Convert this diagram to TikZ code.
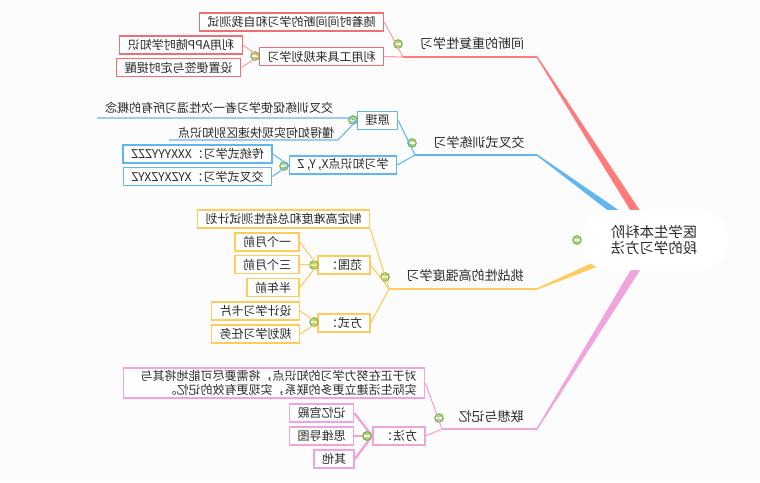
\documentclass[tikz,border=0pt]{standalone}
\usepackage{fontspec}
\setmainfont{Noto Sans CJK SC}
\usetikzlibrary{calc}
\definecolor{bgc}{RGB}{252,252,252}
\definecolor{txt}{RGB}{40,40,40}
\definecolor{redline}{RGB}{255,122,122}
\definecolor{redbox}{RGB}{240,112,112}
\definecolor{blueline}{RGB}{96,182,240}
\definecolor{yelline}{RGB}{255,204,92}
\definecolor{pinkline}{RGB}{240,164,222}
\definecolor{foldgreen}{RGB}{110,170,60}
\definecolor{foldfill}{RGB}{170,215,120}
\tikzstyle{flip} = [xscale=-1]
\tikzstyle{box} = [flip,draw,fill=white,line width=1.1pt,inner xsep=6pt,inner ysep=0pt,minimum height=13.5pt,text=txt,font=\fontsize{9}{11}\selectfont]
\tikzstyle{topic} = [flip,text=txt,inner sep=0,font=\fontsize{9.75}{12}\selectfont]
\tikzstyle{leaf} = [flip,text=txt,inner sep=0,font=\fontsize{9}{11}\selectfont]
\tikzstyle{thin} = [line width=0.8pt]
\tikzset{fold/.style={circle,draw=foldgreen,fill=foldfill,line width=0.6pt,minimum size=6.5pt,inner sep=0,
  path picture={\draw[white,line width=1.1pt] ([xshift=-2.4pt]path picture bounding box.center) -- ([xshift=2.4pt]path picture bounding box.center);}}}
\newcommand{\branch}[2]{\fill[#1] ($(#2)!0.5pt!90:(hub)$) -- ($(hub)!3.5pt!-90:(#2)$) -- ($(hub)!3.5pt!90:(#2)$) -- ($(#2)!0.5pt!-90:(hub)$) -- cycle;}

\begin{document}
\begin{tikzpicture}[x=0.75pt,y=-0.75pt]
    \useasboundingbox (0,0) rectangle (760,482);
    \fill[bgc] (0,0) rectangle (760,482);
    \coordinate (hub) at (654,240);
    \coordinate (t1l) at (403,57);
    \coordinate (t1r) at (537,57);
    \coordinate (t2l) at (415,155);
    \coordinate (t2r) at (537,155);
    \coordinate (t3l) at (389,289);
    \coordinate (t3r) at (537,289);
    \coordinate (t4l) at (442,429);
    \coordinate (t4r) at (537,429);
    \branch{redline}{t1r}
    \branch{blueline}{t2r}
    \branch{yelline}{t3r}
    \branch{pinkline}{t4r}
    \node [flip,fill=white,rounded corners=22pt,minimum width=111pt,minimum height=45pt,align=left,text=txt,font=\fontsize{10.8}{12.5}\selectfont] (cen) at (hub) {医学生本科阶\\段的学习方法};
    \node [fold] (gc) at (577,240) {};

    \draw [thin,redline] (t1l) -- (t1r);
    \node [topic] (t1) at (472,44) {间断的重复性学习};
    \node [fold] (g1) at (398,44) {};
    \node [box,draw=redbox] (c11) at (291.5,22) {随着时间间断的学习和自我测试};
    \node [box,draw=redbox] (c12) at (321.5,56.5) {利用工具来规划学习};
    \draw [thin,redline!70] (c11.west) -- (t1l);
    \draw [thin,redline!70] (c12.west) -- (t1l);
    \node [fold] (g12) at (255,56) {};
    \node [box,draw=redbox] (c121) at (181,45) {利用APP随时学知识};
    \node [box,draw=redbox] (c122) at (178.5,67.5) {设置便签与定时提醒};
    \draw [thin,redline!70] (c121.west) -- (c12.east);
    \draw [thin,redline!70] (c122.west) -- (c12.east);

    \draw [thin,blueline] (t2l) -- (t2r);
    \node [topic] (t2) at (479,143) {交叉式训练学习};
    \node [fold] (g2) at (412,143) {};
    \node [box,draw=blueline] (c21) at (377.5,120.5) {原理};
    \node [box,draw=blueline] (c22) at (343,165) {学习知识点X, Y, Z};
    \draw [thin,blueline] (c21.west) -- (t2l);
    \draw [thin,blueline] (c22.west) -- (t2l);
    \node [fold] (g21) at (353,120) {};
    \node [leaf] (c211) at (219,108) {交叉训练促使学习者一次性温习所有的概念};
    \coordinate (c211l) at (97,118);
    \coordinate (c211r) at (348,118);
    \draw [thin,blueline] (c211l) -- (c211r) -- (c21.east);
    \node [leaf] (c212) at (256,133) {懂得如何实现快速区别知识点};
    \coordinate (c212l) at (169,140);
    \coordinate (c212r) at (338,140);
    \draw [thin,blueline] (c212l) -- (c212r) -- (c21.east);
    \node [fold] (g22) at (284,166) {};
    \node [box,draw=blueline] (c221) at (197.5,154) {传统式学习：XXXYYYZZZ};
    \node [box,draw=blueline] (c222) at (197.5,176.5) {交叉式学习：XYZXYZXYZ};
    \draw [thin,blueline] (c221.west) -- (c22.east);
    \draw [thin,blueline] (c222.west) -- (c22.east);

    \draw [thin,yelline] (t3l) -- (t3r);
    \node [topic] (t3) at (465,276) {挑战性的高强度学习};
    \node [fold] (g3) at (385,277) {};
    \node [box,draw=yelline] (c31) at (283.5,219) {制定高难度和总结性测试计划};
    \node [box,draw=yelline] (c32) at (344,265) {范围：};
    \node [box,draw=yelline] (c33) at (344,323) {方式：};
    \draw [thin,yelline] (c31.south west) -- (t3l);
    \draw [thin,yelline] (c32.west) -- (t3l);
    \draw [thin,yelline] (c33.west) -- (t3l);
    \node [fold] (g32) at (314,265) {};
    \node [box,draw=yelline] (c321) at (267,242) {一个月前};
    \node [box,draw=yelline] (c322) at (267,264.5) {三个月前};
    \node [box,draw=yelline] (c323) at (273,287.5) {半年前};
    \draw [thin,yelline] (c321.west) -- (c32.east);
    \draw [thin,yelline] (c322.west) -- (c32.east);
    \draw [thin,yelline] (c323.west) -- (c32.east);
    \node [fold] (g33) at (314,322) {};
    \node [box,draw=yelline] (c331) at (255.5,311) {设计学习卡片};
    \node [box,draw=yelline] (c332) at (255.5,334) {规划学习任务};
    \draw [thin,yelline] (c331.west) -- (c33.east);
    \draw [thin,yelline] (c332.west) -- (c33.east);

    \draw [thin,pinkline] (t4l) -- (t4r);
    \node [topic] (t4) at (491,417) {联想与记忆};
    \node [fold] (g4) at (439,418) {};
    \node [box,draw=pinkline,align=left,text width=214pt,inner ysep=1.5pt] (c41) at (274,383) {对于正在努力学习的知识点，将需要尽可能地将其与\\实际生活建立更多的联系，实现更有效的记忆。};
    \node [box,draw=pinkline] (c42) at (399,436) {方法：};
    \draw [thin,pinkline] (c41.west) -- (t4l);
    \draw [thin,pinkline] (c42.west) -- (t4l);
    \node [fold] (g42) at (367,436) {};
    \node [box,draw=pinkline] (c421) at (321.5,413) {记忆宫殿};
    \node [box,draw=pinkline] (c422) at (321.5,436) {思维导图};
    \node [box,draw=pinkline] (c423) at (334,459) {其他};
    \draw [pinkline,line width=1.8pt] (c421.west) -- (c42.east);
    \draw [pinkline,line width=1.8pt] (c422.west) -- (c42.east);
    \draw [pinkline,line width=1.8pt] (c423.west) -- (c42.east);
    \node [fold] at (g42) {};
  \end{tikzpicture}
\end{document}
